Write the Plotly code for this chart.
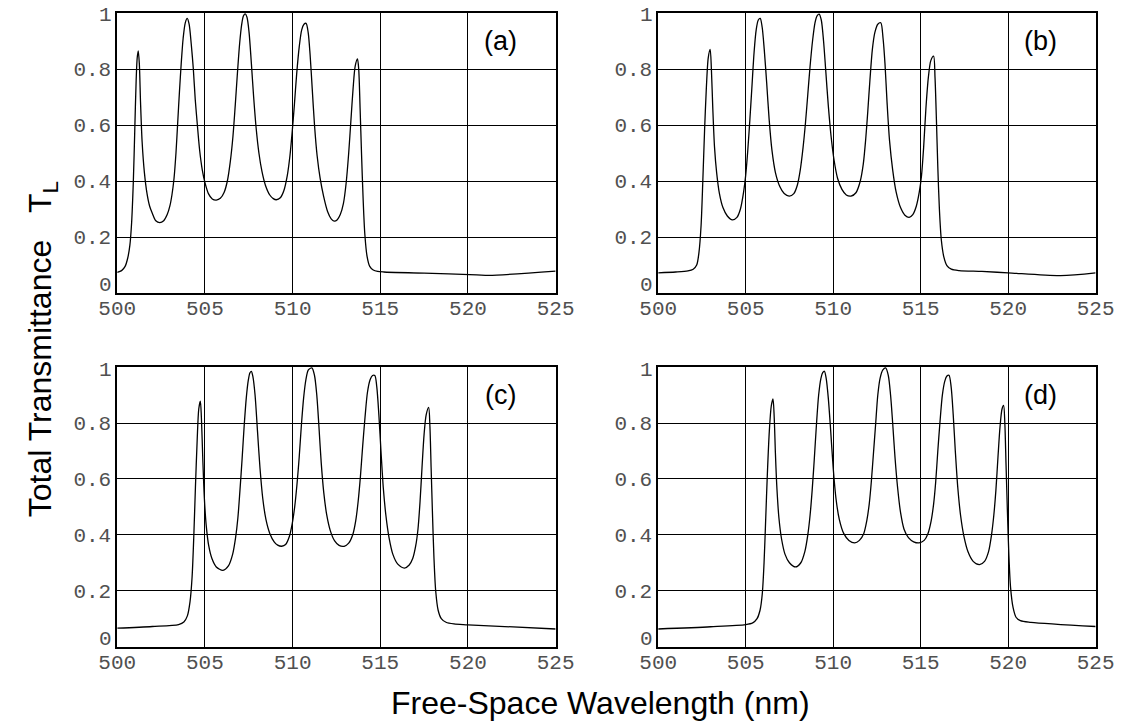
import plotly.graph_objects as go

# ---------------- data ----------------
wl_a = [500.0, 500.25, 500.45, 500.6, 500.72, 500.82, 500.92, 501.0, 501.08, 501.14, 501.2, 501.26,
        501.33, 501.42, 501.55, 501.7, 501.85, 502.0, 502.2, 502.43, 502.65, 502.85, 503.0, 503.12,
        503.24, 503.35, 503.45, 503.55, 503.65, 503.76, 503.88, 503.99, 504.1, 504.22, 504.34, 504.45,
        504.57, 504.7, 504.85, 505.0, 505.2, 505.42, 505.65, 505.88, 506.1, 506.28, 506.45, 506.6,
        506.73, 506.86, 506.98, 507.1, 507.2, 507.3, 507.4, 507.52, 507.65, 507.78, 507.92, 508.08,
        508.25, 508.45, 508.7, 508.9, 509.07, 509.3, 509.5, 509.7, 509.85, 509.97, 510.1, 510.23,
        510.38, 510.52, 510.65, 510.77, 510.89, 511.0, 511.12, 511.25, 511.4, 511.57, 511.77, 512.0,
        512.2, 512.37, 512.55, 512.72, 512.9, 513.05, 513.2, 513.33, 513.45, 513.57, 513.7, 513.77,
        513.85, 513.93, 514.02, 514.12, 514.25, 514.4, 514.6, 514.85, 515.2, 517.5, 520.5, 521.2, 525.0]
t_a = [0.074, 0.08, 0.095, 0.125, 0.17, 0.25, 0.4, 0.58, 0.76, 0.84, 0.865, 0.82,
       0.68, 0.54, 0.43, 0.355, 0.31, 0.285, 0.258, 0.251, 0.258, 0.28, 0.31, 0.35,
       0.41, 0.5, 0.61, 0.72, 0.82, 0.91, 0.965, 0.981, 0.96, 0.89, 0.8, 0.69,
       0.6, 0.51, 0.44, 0.395, 0.355, 0.336, 0.332, 0.338, 0.36, 0.4, 0.47, 0.56,
       0.67, 0.79, 0.89, 0.96, 0.99, 0.997, 0.985, 0.93, 0.82, 0.7, 0.59, 0.5,
       0.435, 0.385, 0.35, 0.337, 0.333, 0.34, 0.365, 0.42, 0.49, 0.57, 0.67, 0.78,
       0.88, 0.94, 0.96, 0.963, 0.93, 0.85, 0.73, 0.6, 0.49, 0.41, 0.345, 0.29,
       0.265, 0.257, 0.262, 0.28, 0.32, 0.39, 0.5, 0.62, 0.73, 0.81, 0.836, 0.8,
       0.66, 0.5, 0.34, 0.21, 0.13, 0.095, 0.082, 0.077, 0.075, 0.071, 0.065, 0.063, 0.078]

wl_b = [500.0, 501.0, 501.7, 502.0, 502.2, 502.33, 502.45, 502.55, 502.65, 502.75, 502.86, 502.97,
        503.04, 503.12, 503.22, 503.34, 503.5, 503.7, 503.95, 504.24, 504.5, 504.7, 504.88, 505.0,
        505.12, 505.24, 505.36, 505.48, 505.6, 505.72, 505.83, 505.94, 506.06, 506.2, 506.34, 506.5,
        506.7, 506.95, 507.2, 507.49, 507.75, 507.95, 508.12, 508.28, 508.42, 508.55, 508.68, 508.82,
        508.96, 509.08, 509.2, 509.32, 509.45, 509.58, 509.72, 509.88, 510.05, 510.25, 510.5, 510.75,
        511.02, 511.3, 511.55, 511.72, 511.86, 511.98, 512.1, 512.24, 512.38, 512.55, 512.72, 512.85,
        512.96, 513.08, 513.22, 513.4, 513.6, 513.85, 514.1, 514.34, 514.55, 514.75, 514.92, 515.05,
        515.17, 515.3, 515.44, 515.58, 515.74, 515.82, 515.9, 515.98, 516.07, 516.18, 516.32, 516.5,
        516.75, 517.2, 518.5, 520.0, 523.0, 525.0]
t_b = [0.072, 0.075, 0.079, 0.085, 0.1, 0.145, 0.24, 0.4, 0.58, 0.73, 0.84, 0.87,
       0.8, 0.66, 0.52, 0.43, 0.355, 0.305, 0.275, 0.261, 0.27, 0.3, 0.36, 0.42,
       0.51, 0.62, 0.74, 0.86, 0.94, 0.975, 0.981, 0.95, 0.87, 0.75, 0.62, 0.51,
       0.43, 0.38, 0.355, 0.346, 0.355, 0.385, 0.44, 0.52, 0.61, 0.71, 0.81, 0.9,
       0.965, 0.99, 0.996, 0.975, 0.9, 0.79, 0.67, 0.56, 0.475, 0.41, 0.37, 0.35,
       0.346, 0.358, 0.4, 0.46, 0.55, 0.65, 0.76, 0.87, 0.93, 0.96, 0.965, 0.91,
       0.82, 0.68, 0.545, 0.44, 0.36, 0.305, 0.278, 0.27, 0.28, 0.31, 0.36, 0.42,
       0.52, 0.66, 0.77, 0.83, 0.846, 0.77, 0.62, 0.45, 0.3, 0.19, 0.13, 0.098,
       0.085, 0.08, 0.077, 0.072, 0.062, 0.072]

wl_c = [500.0, 502.0, 503.5, 503.8, 504.0, 504.15, 504.27, 504.37, 504.46, 504.56, 504.65, 504.74,
        504.8, 504.88, 504.97, 505.08, 505.22, 505.4, 505.65, 506.03, 506.35, 506.58, 506.75, 506.88,
        507.0, 507.12, 507.24, 507.36, 507.48, 507.57, 507.65, 507.74, 507.86, 508.0, 508.14, 508.3,
        508.48, 508.7, 508.95, 509.15, 509.38, 509.6, 509.82, 509.98, 510.12, 510.25, 510.38, 510.5,
        510.63, 510.76, 510.9, 511.1, 511.25, 511.38, 511.5, 511.63, 511.78, 511.95, 512.15, 512.4,
        512.65, 512.94, 513.2, 513.43, 513.6, 513.74, 513.87, 514.0, 514.13, 514.27, 514.42, 514.56,
        514.69, 514.8, 514.92, 515.04, 515.17, 515.32, 515.5, 515.72, 516.0, 516.38, 516.65, 516.85,
        517.02, 517.15, 517.27, 517.38, 517.5, 517.62, 517.76, 517.83, 517.9, 517.98, 518.06, 518.16,
        518.3, 518.48, 518.75, 519.2, 520.0, 525.0]
t_c = [0.066, 0.072, 0.079, 0.088, 0.11, 0.16, 0.25, 0.4, 0.57, 0.74, 0.85, 0.878,
       0.82, 0.67, 0.53, 0.43, 0.36, 0.315, 0.285, 0.273, 0.29, 0.33, 0.39, 0.46,
       0.56, 0.67, 0.79, 0.89, 0.955, 0.98, 0.985, 0.965, 0.9, 0.77, 0.64, 0.53,
       0.455, 0.405, 0.375, 0.363, 0.359, 0.365, 0.395, 0.44, 0.5, 0.58, 0.68, 0.79,
       0.89, 0.955, 0.99, 0.997, 0.97, 0.9, 0.79, 0.66, 0.55, 0.47, 0.415, 0.378,
       0.362, 0.359, 0.37, 0.4, 0.45, 0.52, 0.61, 0.72, 0.82, 0.91, 0.955, 0.97,
       0.97, 0.93, 0.83, 0.7, 0.57, 0.47, 0.39, 0.33, 0.295, 0.281, 0.292, 0.315,
       0.36, 0.42, 0.52, 0.64, 0.76, 0.83, 0.856, 0.79, 0.64, 0.47, 0.32, 0.2,
       0.13, 0.1, 0.087, 0.081, 0.078, 0.063]

wl_d = [500.0, 503.0, 505.0, 505.4, 505.65, 505.82, 505.95, 506.05, 506.14, 506.24, 506.35, 506.46,
        506.56, 506.63, 506.7, 506.79, 506.9, 507.05, 507.25, 507.5, 507.85, 508.15, 508.38, 508.55,
        508.68, 508.8, 508.92, 509.04, 509.17, 509.3, 509.4, 509.5, 509.6, 509.72, 509.86, 510.0,
        510.16, 510.35, 510.6, 510.9, 511.23, 511.5, 511.75, 511.92, 512.06, 512.18, 512.3, 512.42,
        512.55, 512.68, 512.84, 513.0, 513.15, 513.28, 513.4, 513.53, 513.68, 513.85, 514.05, 514.3,
        514.6, 514.91, 515.2, 515.42, 515.6, 515.74, 515.86, 515.98, 516.1, 516.24, 516.38, 516.5,
        516.62, 516.74, 516.86, 516.98, 517.12, 517.28, 517.47, 517.7, 518.0, 518.36, 518.65, 518.88,
        519.05, 519.18, 519.3, 519.42, 519.54, 519.65, 519.74, 519.81, 519.88, 519.96, 520.04, 520.14,
        520.28, 520.45, 520.7, 521.3, 525.0]
t_d = [0.063, 0.071, 0.079, 0.085, 0.1, 0.13, 0.19, 0.3, 0.45, 0.62, 0.77, 0.86,
       0.886, 0.82, 0.69, 0.56, 0.46, 0.385, 0.33, 0.3, 0.285, 0.3, 0.34, 0.4,
       0.47, 0.56, 0.67, 0.79, 0.9, 0.96, 0.98, 0.985, 0.96, 0.89, 0.77, 0.64,
       0.53, 0.455, 0.405, 0.38, 0.371, 0.38, 0.405, 0.45, 0.51, 0.59, 0.69, 0.79,
       0.9, 0.96, 0.99, 0.997, 0.97, 0.9, 0.8, 0.68, 0.57, 0.48, 0.42, 0.39,
       0.375, 0.371, 0.38, 0.405, 0.45, 0.51, 0.59, 0.7, 0.8, 0.9, 0.95, 0.968,
       0.971, 0.93, 0.83, 0.7, 0.57, 0.47, 0.395, 0.34, 0.305, 0.293, 0.305, 0.34,
       0.4, 0.47, 0.56, 0.68, 0.79, 0.85, 0.863, 0.8, 0.65, 0.48, 0.33, 0.21,
       0.14, 0.105, 0.093, 0.087, 0.072]

panel_labels = ["(a)", "(b)", "(c)", "(d)"]
x_ticks = [500, 505, 510, 515, 520, 525]
x_ticktext = ["500", "505", "510", "515", "520", "525"]
y_ticks = [0.2, 0.4, 0.6, 0.8]
y_ticktext = ["0.2", "0.4", "0.6", "0.8"]
y_end_ticks = [0.0, 1.0]          # end labels, nudged inward as in the reference
y_end_text = ["0", "1"]
x_title = "Free-Space Wavelength (nm)"
y_title = "Total Transmittance\u00a0\u00a0\u00a0T<sub>L</sub>"

# ---------------- figure ----------------
W, H = 1142, 725
xdom_left = [101.6 / W, 555.1 / W]
xdom_right = [661.2 / W, 1113.7 / W]
ydom_top = [1 - 293.0 / H, 1 - 13.0 / H]
ydom_bot = [1 - 646.6 / H, 1 - 367.1 / H]

series = [(wl_a, t_a), (wl_b, t_b), (wl_c, t_c), (wl_d, t_d)]
doms = [(xdom_left, ydom_top), (xdom_right, ydom_top), (xdom_left, ydom_bot), (xdom_right, ydom_bot)]

fig = go.Figure()
tick_font = dict(family="Courier New, Courier, Liberation Mono, monospace", size=21, color="#505050")
sans = "Liberation Sans, Arial, Helvetica, sans-serif"
layout = dict(width=W, height=H, margin=dict(l=0, r=0, t=0, b=0),
              paper_bgcolor="white", plot_bgcolor="white", showlegend=False)
annotations = []
for i, ((xs, ys), (xd, yd)) in enumerate(zip(series, doms)):
    n = "" if i == 0 else str(i + 1)
    fig.add_trace(go.Scatter(x=xs, y=ys, mode="lines",
                             line=dict(color="black", width=1.3, shape="spline", smoothing=0.8),
                             xaxis="x" + n, yaxis="y" + n, hoverinfo="skip"))
    layout["xaxis" + n] = dict(domain=xd, range=[500, 525], anchor="y" + n,
                               tickvals=x_ticks, ticktext=x_ticktext, tickfont=tick_font,
                               ticklabelstandoff=-5,
                               showgrid=True, gridcolor="black", gridwidth=1,
                               showline=True, linecolor="black", linewidth=1.6, mirror=True,
                               ticks="", zeroline=False, fixedrange=True)
    layout["yaxis" + n] = dict(domain=yd, range=[0, 1], anchor="x" + n,
                               tickvals=y_ticks, ticktext=y_ticktext, tickfont=tick_font,
                               showgrid=True, gridcolor="black", gridwidth=1,
                               showline=True, linecolor="black", linewidth=1.6, mirror=True,
                               ticks="", zeroline=False, fixedrange=True)
    for val, txt, dy in zip(y_end_ticks, y_end_text, [7, -3]):
        annotations.append(dict(x=0, y=val, xref="x" + n + " domain", yref="y" + n,
                                text=txt, showarrow=False, xanchor="right", yanchor="middle",
                                xshift=-3, yshift=dy, font=tick_font))
    annotations.append(dict(x=521.85, y=0.90, xref="x" + n, yref="y" + n,
                            text=panel_labels[i], showarrow=False,
                            font=dict(family=sans, size=27, color="black")))

annotations.append(dict(x=602 / W, y=1 - 703 / H, xref="paper", yref="paper",
                        text=x_title, showarrow=False, xanchor="center", yanchor="middle",
                        font=dict(family=sans, size=32, color="black")))
annotations.append(dict(x=24 / W, y=1 - 349 / H, xref="paper", yref="paper",
                        text=y_title, showarrow=False, textangle=-90,
                        xanchor="center", yanchor="middle",
                        font=dict(family=sans, size=32, color="black")))
layout["annotations"] = annotations
fig.update_layout(**layout)
fig.write_html("out.html")
